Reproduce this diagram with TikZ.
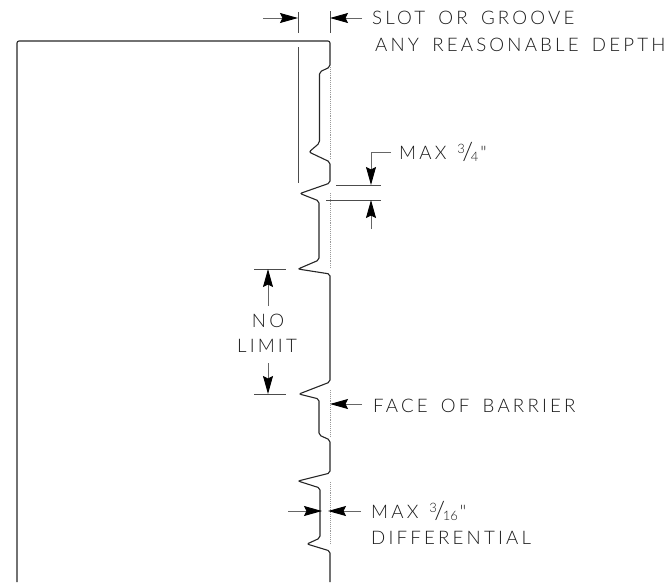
\documentclass[tikz,border=0pt]{standalone}
\usepackage{fontspec}
\usepackage{tikz}
\usetikzlibrary{arrows.meta}
\newfontfamily\cadfont[LetterSpace=17, WordSpace=1.6]{Lato Light}
\newfontfamily\fracfont{Lato Light}
\newcommand{\cadfrac}[2]{\raisebox{6pt}{\fracfont\fontsize{13}{12}\selectfont #1}\kern-2.5pt\raisebox{-1pt}{\fracfont\fontsize{25}{25}\selectfont /}\kern-2.5pt\raisebox{-2pt}{\fracfont\fontsize{13}{12}\selectfont #2}}

\begin{document}
\begin{tikzpicture}
[x=1pt, y=-1pt,
 label/.style={font=\cadfont\fontsize{18.7}{20}\selectfont, text=black!90, inner sep=0pt, anchor=west},
 barrier/.style={draw=black!85, line width=1.1pt, rounded corners=2pt},
 face/.style={draw=black!40, line width=0.9pt, densely dotted},
 extline/.style={draw=black!70, line width=0.9pt},
 leader/.style={draw=black!60, line width=0.9pt},
 dimline/.style={leader, -{Stealth[length=18pt, width=10pt, inset=2.5pt, black]}}]
    \useasboundingbox (0,0) rectangle (671,582);
    % barrier outline
    \draw[barrier] (17,582) -- (17,41) -- (330,41) -- (330,67) -- (319.5,72) -- (319.5,143) -- (309,152)
        -- (330,162) -- (330,183) -- (300,193.5) -- (319,201) -- (319,260) -- (298,269) -- (330,274)
        -- (330,382) -- (299,394) -- (319,399) -- (319,435) -- (330,440) -- (330,473) -- (298,481)
        -- (320,488) -- (320,538) -- (307,544) -- (330,551) -- (330,582);
    % original face
    \draw[face] (330,67) -- (330,160);
    \draw[face] (330,193) -- (330,268);
    \draw[face] (330,390) -- (330,437);
    \draw[face] (330,482) -- (330,543);
    % slot
    \coordinate (SA) at (298,12);
    \coordinate (SB) at (298,33);
    \coordinate (SC) at (298,47);
    \coordinate (SD) at (298,183);
    \coordinate (SE) at (330,11);
    \coordinate (SF) at (330,33);
    \coordinate (SG) at (263,18);
    \coordinate (SH) at (298,18);
    \coordinate (SI) at (330,18);
    \draw[extline] (SA) -- (SB);
    \draw[extline] (SC) -- (SD);
    \draw[extline] (SE) -- (SF);
    \draw[dimline] (SG) -- (SH);
    \node[label] (slot) at (372,18) {SLOT OR GROOVE};
    \node[label] (depth) at (375,45) {ANY REASONABLE DEPTH};
    \draw[dimline] (slot.west) ++(-10,0) -- (SI);
    % three quarter
    \node[label] (maxa) at (399,152) {MAX\hspace{11pt}\cadfrac{3}{4}\hspace{2pt}"};
    \coordinate (TA) at (371,152);
    \coordinate (TB) at (371,185);
    \coordinate (TC) at (336,185);
    \coordinate (TD) at (381,185);
    \coordinate (TE) at (326,200);
    \coordinate (TF) at (381,200);
    \coordinate (TG) at (371,229);
    \coordinate (TH) at (371,200);
    \draw[extline] (TC) -- (TD);
    \draw[extline] (TE) -- (TF);
    \draw[leader] (maxa.west) ++(-8,0) -- (TA);
    \draw[dimline] (TA) -- (TB);
    \draw[dimline] (TG) -- (TH);
    % no limit
    \node[label, anchor=center] (no) at (268,321) {NO};
    \node[label, anchor=center] (limit) at (267,346) {LIMIT};
    \coordinate (LA) at (254,269);
    \coordinate (LB) at (286,269);
    \coordinate (LC) at (268,269);
    \coordinate (LD) at (268,306);
    \coordinate (LE) at (254,394);
    \coordinate (LF) at (286,394);
    \coordinate (LG) at (268,394);
    \coordinate (LH) at (268,363);
    \draw[extline] (LA) -- (LB);
    \draw[extline] (LE) -- (LF);
    \draw[dimline] (LD) -- (LC);
    \draw[dimline] (LH) -- (LG);
    % face of barrier
    \node[label] (facetext) at (373,406) {FACE OF BARRIER};
    \coordinate (FA) at (362,404);
    \coordinate (FB) at (330,404);
    \draw[dimline] (FA) -- (FB);
    % differential
    \node[label] (maxb) at (371,511) {MAX\hspace{11pt}\cadfrac{3}{16}\hspace{2pt}"};
    \node[label] (diff) at (371,538) {DIFFERENTIAL};
    \coordinate (DA) at (288,511);
    \coordinate (DB) at (322,511);
    \coordinate (DC) at (361,511);
    \coordinate (DD) at (328,511);
    \draw[dimline] (DA) -- (DB);
    \draw[dimline] (DC) -- (DD);
\end{tikzpicture}
\end{document}
